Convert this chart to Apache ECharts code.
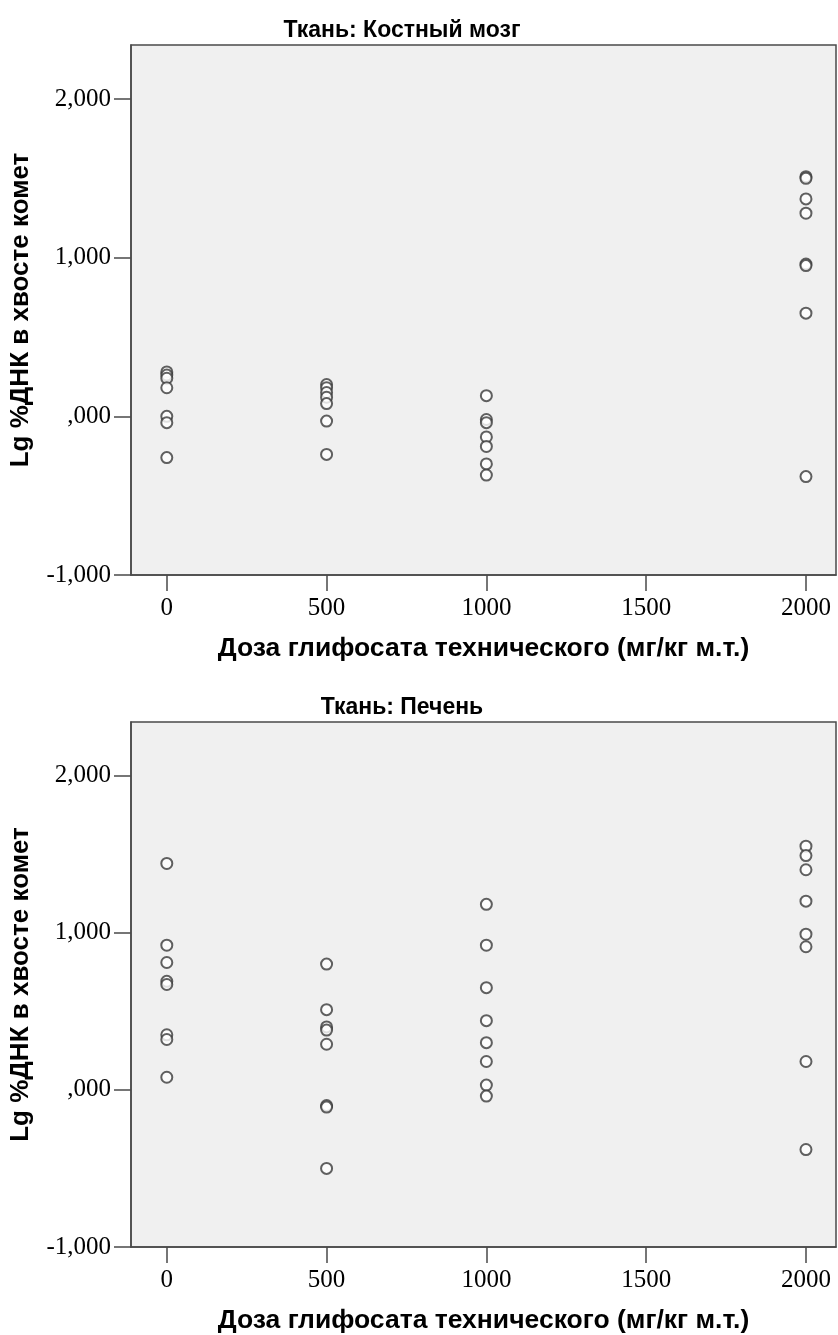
<!DOCTYPE html>
<html>
<head>
<meta charset="utf-8">
<script src="https://cdn.jsdelivr.net/npm/echarts@6/dist/echarts.min.js"></script>
<style>
  html, body { margin: 0; padding: 0; background: #fff; }
  #chart { width: 838px; height: 1335px; }
</style>
</head>
<body>
<div id="chart"></div>
<script>
const INK = "#000";
const BORDER = "#4a4a4a";
const PLOT_BG = "#f0f0f0";
const POINT = "#3a3a3a";

const panelTitles = ["Ткань: Костный мозг", "Ткань: Печень"];
const xTitle = "Доза глифосата технического (мг/кг м.т.)";
const yTitle = "Lg %ДНК в хвосте комет";

const doses = [0, 500, 1000, 2000];
const xTickValues = [0, 500, 1000, 1500, 2000];
const yTickValues = [-1, 0, 1, 2];
const yTickLabels = ["-1,000", ",000", "1,000", "2,000"];

// bone marrow, one array per dose
const bone0 = [0.28, 0.26, 0.24, 0.18, 0.0, -0.04, -0.26];
const bone500 = [0.20, 0.18, 0.15, 0.12, 0.08, -0.03, -0.24];
const bone1000 = [0.13, -0.02, -0.04, -0.13, -0.19, -0.30, -0.37];
const bone2000 = [1.51, 1.50, 1.37, 1.28, 0.96, 0.95, 0.65, -0.38];

// liver, one array per dose
const liver0 = [1.44, 0.92, 0.81, 0.69, 0.67, 0.35, 0.32, 0.08];
const liver500 = [0.80, 0.51, 0.40, 0.38, 0.29, -0.10, -0.11, -0.50];
const liver1000 = [1.18, 0.92, 0.65, 0.44, 0.30, 0.18, 0.03, -0.04];
const liver2000 = [1.55, 1.49, 1.40, 1.20, 0.99, 0.91, 0.18, -0.38];

const panels = [
  [bone0, bone500, bone1000, bone2000],
  [liver0, liver500, liver1000, liver2000],
];

function toPoints(groups) {
  const pts = [];
  groups.forEach((vals, i) => vals.forEach((v) => pts.push([doses[i], v])));
  return pts;
}

const GRID_TOPS = [45, 722];
const GRID_H = 530;

const chart = echarts.init(document.getElementById("chart"), null, { renderer: "canvas" });

chart.setOption({
  animation: false,
  title: panelTitles.map((t, i) => ({
    text: t,
    left: 397,
    textAlign: "center",
    top: GRID_TOPS[i] - 31,
    textStyle: { fontFamily: "Liberation Sans", fontWeight: "bold", fontSize: 23, color: INK },
  })),
  grid: GRID_TOPS.map((top) => ({
    left: 130, right: 2, top, height: GRID_H,
    show: true, backgroundColor: PLOT_BG, borderColor: BORDER, borderWidth: 1.5,
  })),
  xAxis: GRID_TOPS.map((_, i) => ({
    type: "value",
    gridIndex: i,
    min: -112,
    max: 2094,
    name: xTitle,
    nameLocation: "middle",
    nameGap: 60,
    nameTextStyle: { fontFamily: "Liberation Sans", fontWeight: "bold", fontSize: 26.5, color: INK },
    axisLine: { show: true, onZero: false, lineStyle: { color: BORDER, width: 1.5 } },
    axisTick: { show: true, length: 16, customValues: xTickValues, lineStyle: { color: BORDER, width: 1.5 } },
    axisLabel: {
      customValues: xTickValues,
      margin: 21,
      fontFamily: "Liberation Serif",
      fontSize: 25,
      color: INK,
      formatter: (v) => String(v),
    },
    splitLine: { show: false },
  })),
  yAxis: GRID_TOPS.map((_, i) => ({
    type: "value",
    gridIndex: i,
    min: -1,
    max: 2.34,
    name: yTitle,
    nameLocation: "middle",
    nameGap: 97,
    nameTextStyle: { fontFamily: "Liberation Sans", fontWeight: "bold", fontSize: 26, color: INK },
    axisLine: { show: true, onZero: false, lineStyle: { color: BORDER, width: 1.5 } },
    axisTick: { show: true, length: 17, customValues: yTickValues, lineStyle: { color: BORDER, width: 1.5 } },
    axisLabel: {
      customValues: yTickValues,
      margin: 20,
      fontFamily: "Liberation Serif",
      fontSize: 25,
      color: INK,
      formatter: (v) => yTickLabels[yTickValues.indexOf(Math.round(v))] ?? "",
    },
    splitLine: { show: false },
  })),
  series: panels.map((groups, i) => ({
    type: "scatter",
    xAxisIndex: i,
    yAxisIndex: i,
    symbol: "emptyCircle",
    symbolSize: 11,
    itemStyle: { color: POINT, borderColor: POINT, borderWidth: 1.8 },
    data: toPoints(groups),
  })),
});
</script>
</body>
</html>
